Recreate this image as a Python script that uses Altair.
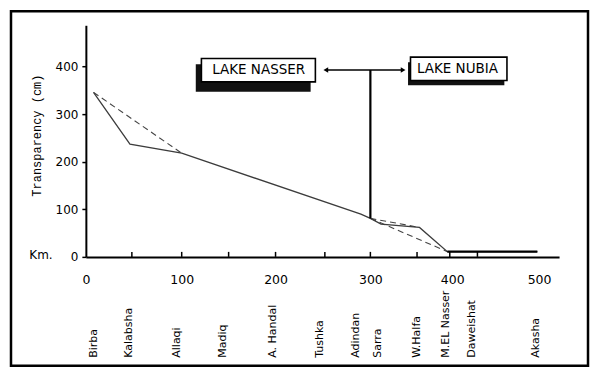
import altair as alt
import pandas as pd

# ---- data ----
solid_km = [8, 46, 100, 290, 300, 313, 360, 394, 498]
solid_cm = [346, 237, 218, 90, 81, 69, 62, 11, 11]

dash_km = [8, 100, 300, 360, 300, 394]
dash_cm = [346, 218, 81, 62, 81, 11]
dash_seg = ["a", "a", "b", "b", "c", "c"]

stations = ["Birba", "Kalabsha", "Allaqi", "Madiq", "A. Handal", "Tushka",
            "Adindan", "Sarra", "W.Halfa", "M.EL Nasser", "Daweishat", "Akasha"]
station_km = [9, 45, 95, 144, 197, 247, 285, 309, 357, 392, 423, 496]

x_tick_labels = [0, 100, 200, 300, 400, 500]
x_minor_ticks = [48, 100, 150, 200, 252, 300, 357, 397, 429]
y_tick_labels = [0, 100, 200, 300, 400]

box_labels = ["LAKE NASSER", "LAKE NUBIA"]
box_x1 = [121, 349]
box_x2 = [242, 463]
box_y1 = [368, 371]
box_y2 = [417, 420]
shadow_x1 = [115, 346]
shadow_x2 = [237, 460]
shadow_y1 = [347, 361]
shadow_y2 = [405, 409]
label_km = [182, 406]
label_cm = [393, 395]

arrow_km = [253, 340]
arrow_cm = [393, 393]
arrow_shape = ["triangle-left", "triangle-right"]
divider_km = [300]
divider_cm1 = [81]
divider_cm2 = [393]

# ---- scales / axes ----
xs = alt.Scale(domain=[0, 100, 200, 300, 400, 500, 523],
               range=[0, 96, 190, 285, 367, 454, 474], nice=False, zero=False)
ys = alt.Scale(domain=[0, 487], nice=False, zero=True)

xax = alt.Axis(values=x_tick_labels, grid=False, ticks=False, domainColor="black",
               domainWidth=2, labelFont="DejaVu Sans", labelFontSize=12.5,
               labelColor="black", labelPadding=17, labelFlush=False, title=None)
yax = alt.Axis(values=y_tick_labels, grid=False, domainColor="black", domainWidth=2,
               tickColor="black", tickSize=4, tickWidth=1.5,
               labelFont="DejaVu Sans", labelFontSize=12, labelColor="black",
               labelPadding=4, title="Transparency (cm)", titleFont="Liberation Mono",
               titleFontSize=12, titleFontWeight="normal", titleColor="black",
               titleAngle=270, titleX=-49, titleY=110, titleAlign="center",
               titleBaseline="middle")


def X(f):
    return alt.X(f, type="quantitative", scale=xs, axis=xax)


def Y(f):
    return alt.Y(f, type="quantitative", scale=ys, axis=yax)


solid_df = pd.DataFrame({"km": solid_km, "cm": solid_cm})
dash_df = pd.DataFrame({"km": dash_km, "cm": dash_cm, "seg": dash_seg})
tail_df = solid_df.iloc[-2:]
st_df = pd.DataFrame({"km": station_km, "name": stations})
tick_df = pd.DataFrame({"km": x_minor_ticks})
box_df = pd.DataFrame({"label": box_labels, "x1": box_x1, "x2": box_x2,
                       "y1": box_y1, "y2": box_y2, "sx1": shadow_x1,
                       "sx2": shadow_x2, "sy1": shadow_y1, "sy2": shadow_y2,
                       "tx": label_km, "ty": label_cm})
arrow_df = pd.DataFrame({"km": arrow_km, "cm": arrow_cm, "shape": arrow_shape})
div_df = pd.DataFrame({"km": divider_km, "c1": divider_cm1, "c2": divider_cm2})
one = pd.DataFrame({"a": [0]})

frame = alt.Chart(one).mark_rect(filled=False, stroke="black", strokeWidth=2.5).encode(
    x=alt.value(-75), x2=alt.value(503), y=alt.value(-14), y2=alt.value(341))

solid = alt.Chart(solid_df).mark_line(color="#3c3c3c", strokeWidth=1.3).encode(
    x=X("km"), y=Y("cm"), order="km:Q")
tail = alt.Chart(tail_df).mark_line(color="black", strokeWidth=2.2).encode(
    x=X("km"), y=Y("cm"))
dashed = alt.Chart(dash_df).mark_line(color="#444", strokeWidth=1.1,
                                      strokeDash=[6, 4]).encode(
    x=X("km"), y=Y("cm"), detail="seg:N")

ticks = alt.Chart(tick_df).mark_rule(color="black", strokeWidth=1.5).encode(
    x=X("km"), y=alt.value(232), y2=alt.value(227))

st_text = alt.Chart(st_df).mark_text(angle=270, align="left", baseline="middle",
                                     font="DejaVu Sans", fontSize=11,
                                     color="black").encode(
    x=X("km"), y=alt.value(333), text="name:N")

km_text = alt.Chart(one).mark_text(text="Km.", font="DejaVu Sans", fontSize=12,
                                   color="black", align="center",
                                   baseline="middle").encode(
    x=alt.value(-45), y=alt.value(230))

shadow = alt.Chart(box_df).mark_rect(color="#111").encode(
    x=X("sx1"), x2="sx2", y=Y("sy1"), y2="sy2")
box = alt.Chart(box_df).mark_rect(fill="white", stroke="black", strokeWidth=1.6).encode(
    x=X("x1"), x2="x2", y=Y("y1"), y2="y2")
box_text = alt.Chart(box_df).mark_text(font="DejaVu Sans", fontSize=13.5,
                                       color="black").encode(
    x=X("tx"), y=Y("ty"), text="label:N")

arrow_line = alt.Chart(arrow_df).mark_line(color="black", strokeWidth=1.6).encode(
    x=X("km"), y=Y("cm"))
arrow_heads = alt.Chart(arrow_df).mark_point(filled=True, color="black", size=30,
                                             opacity=1).encode(
    x=X("km"), y=Y("cm"), shape=alt.Shape("shape:N", scale=None))
divider = alt.Chart(div_df).mark_rule(color="black", strokeWidth=2.2).encode(
    x=X("km"), y=Y("c1"), y2="c2")

chart = alt.layer(
    frame, dashed, solid, tail, ticks, st_text, km_text, divider, arrow_line,
    arrow_heads, shadow, box, box_text
).properties(
    width=474, height=232,
    padding={"left": 78, "top": 17, "right": 33, "bottom": 113},
    autosize=alt.AutoSizeParams(type="none"),
    background="white",
).configure_view(stroke=None)

chart.save("out.html", embed_options={"renderer": "svg", "actions": False})
